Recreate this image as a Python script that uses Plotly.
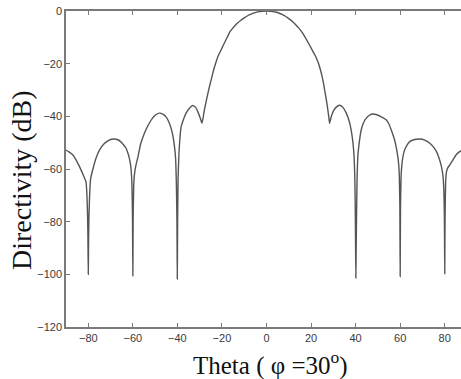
import plotly.graph_objects as go

# Theta (deg) and directivity (dB)
theta = [
    -90, -88.5, -87, -85.5, -84, -82.5, -81, -80.6, -80.3, -80.15, -80.0, -79.85, -79.7, -79.4,
    -79, -78, -76.5, -75, -73, -71, -69.5, -68.3, -67, -65.5, -64, -63, -62, -61.3, -60.8,
    -60.4, -60.15, -60.0, -59.85, -59.6, -59.2, -58.6, -57.8, -56.5, -54.8, -53, -51, -49.5,
    -48.1, -46.5, -45, -43.6, -42.5, -41.8, -41.3, -40.8, -40.45, -40.2, -40.05, -39.9,
    -39.7, -39.3, -38.8, -38.3, -37.2, -36.1, -34.5, -33.1, -31.8, -30.8, -29.8, -29.0,
    -28.6, -28.2, -27.8, -27.3, -26.8, -26.3, -25.8, -25.2, -24.5, -23.8, -23.0, -22.2,
    -21.3, -20.4, -19.4, -18.4, -17.5, -16.6, -15.5, -14.3, -13.0, -11.5, -10.0, -8.5,
    -7.0, -5.5, -4.0, -2.0, 0.0,
    2.0, 4.0, 5.5, 7.0, 8.5, 10.0, 11.5, 13.0, 14.5, 16.3, 17.5, 18.7, 20.0, 21.0,
    21.8, 22.6, 23.4, 24.2, 25.0, 25.6, 26.1, 26.6, 27.1, 27.6, 28.0, 28.3,
    29.0, 30.0, 31.2, 32.8, 34.3, 35.8, 37.0, 38.0, 38.8, 39.3,
    39.6, 39.8, 39.95, 40.1, 40.3, 40.6, 41.0, 41.7, 42.5, 43.5, 44.8, 46.3, 47.8, 49.5,
    51.5, 53.8, 55.0, 56.0, 57.5, 58.5, 59.2, 59.6, 59.85, 60.0, 60.15, 60.4, 60.8, 61.3,
    62.0, 63.0, 64.3, 66.5, 68.8, 71.0, 73.3, 75.0, 76.3, 77.5, 78.5, 79.2, 79.6, 79.85,
    80.0, 80.15, 80.4, 80.8, 81.4, 82.2, 83.7, 85.2, 86.7, 87.5,
]
directivity_db = [
    -52.8, -53.6, -54.6, -56.5, -59, -61.8, -65, -70, -78, -86, -100.0, -86, -78, -70,
    -64, -60.3, -55.8, -52.8, -50.5, -49.2, -48.7, -48.6, -48.8, -49.6, -51, -52.2, -54.5, -57, -60,
    -66, -78, -100.6, -78, -66, -61.5, -58.5, -55.8, -50.5, -46.4, -43.2, -40.5, -39.3,
    -38.8, -39.2, -40.3, -42.6, -45.5, -48.5, -51.5, -56, -66, -80, -101.8, -80,
    -64, -54, -47.5, -43.9, -41, -38.8, -36.8, -35.9, -36.6, -38.3, -40.5, -42.6,
    -41.2, -39.2, -37.2, -35.2, -33.2, -31.2, -29.4, -27.3, -25.0, -22.6, -20.3, -18.2,
    -16.3, -14.8, -13.0, -11.3, -9.8, -8.1, -6.9, -5.7, -4.6, -3.5, -2.6, -1.8,
    -1.2, -0.7, -0.35, -0.08, 0.0,
    -0.08, -0.4, -0.75, -1.3, -2.0, -2.9, -3.9, -5.1, -6.5, -8.5, -10.2, -12.0, -14.0, -15.6,
    -16.8, -18.3, -20.0, -22.3, -25.0, -27.5, -30.0, -32.5, -35.0, -38.0, -40.5, -42.6,
    -40.3, -38.0, -36.6, -35.8, -36.6, -38.8, -41.5, -45.2, -50, -55.3,
    -62, -72, -86, -101.4, -86, -66, -55, -49.5, -45.2, -42.5, -40.7, -39.5, -39.1, -39.4,
    -40.2, -41.4, -43, -45.2, -49, -53, -57, -62, -74, -100.8, -74, -63, -58, -55,
    -52.8, -51, -49.6, -48.8, -48.6, -49.0, -50.2, -51.7, -53.4, -56, -59, -62.5, -68, -78,
    -99.8, -78, -65, -61, -59.5, -58.5, -56.5, -54.5, -53.4, -53.0,
]

x_tick_vals = [-80, -60, -40, -20, 0, 20, 40, 60, 80]
y_tick_vals = [0, -20, -40, -60, -80, -100, -120]

x_title = "Theta ( φ =30<sup>o</sup>)"
y_title = "Directivity (dB)"

fig = go.Figure()
fig.add_trace(go.Scatter(
    x=theta, y=directivity_db, mode="lines",
    line=dict(color="#555555", width=1.4, shape="spline", smoothing=0.4),
    showlegend=False, hoverinfo="skip",
))

axis_common = dict(
    showgrid=False, zeroline=False, showline=True, automargin=False,
    linecolor="#7a7a7a", linewidth=1.5,
    ticks="inside", ticklen=4, tickwidth=1.2, tickcolor="#7a7a7a",
    tickfont=dict(family="Liberation Sans, Arial, sans-serif", size=11, color="#3a3a3a"),
)

fig.update_layout(
    width=461, height=379,
    margin=dict(l=66, r=0, t=11, b=52),
    paper_bgcolor="white", plot_bgcolor="white",
    xaxis=dict(range=[-90, 87.3], tickvals=x_tick_vals, mirror="ticks", **axis_common),
    yaxis=dict(range=[-120, 0], tickvals=y_tick_vals, mirror=False, **axis_common),
    annotations=[
        dict(text=x_title, x=0, xref="x", y=0, yref="paper", xshift=4, yshift=-18,
             xanchor="center", yanchor="top", showarrow=False,
             font=dict(family="Liberation Serif, Times New Roman, serif", size=25, color="#111111")),
        dict(text=y_title, x=0, xref="paper", y=0.5, yref="paper", xshift=-45, yshift=-11,
             xanchor="center", yanchor="middle", textangle=-90, showarrow=False,
             font=dict(family="Liberation Serif, Times New Roman, serif", size=28, color="#111111")),
    ],
)

fig.write_html("out.html", config={"displayModeBar": False},
               post_script="document.body.style.margin='0';")
